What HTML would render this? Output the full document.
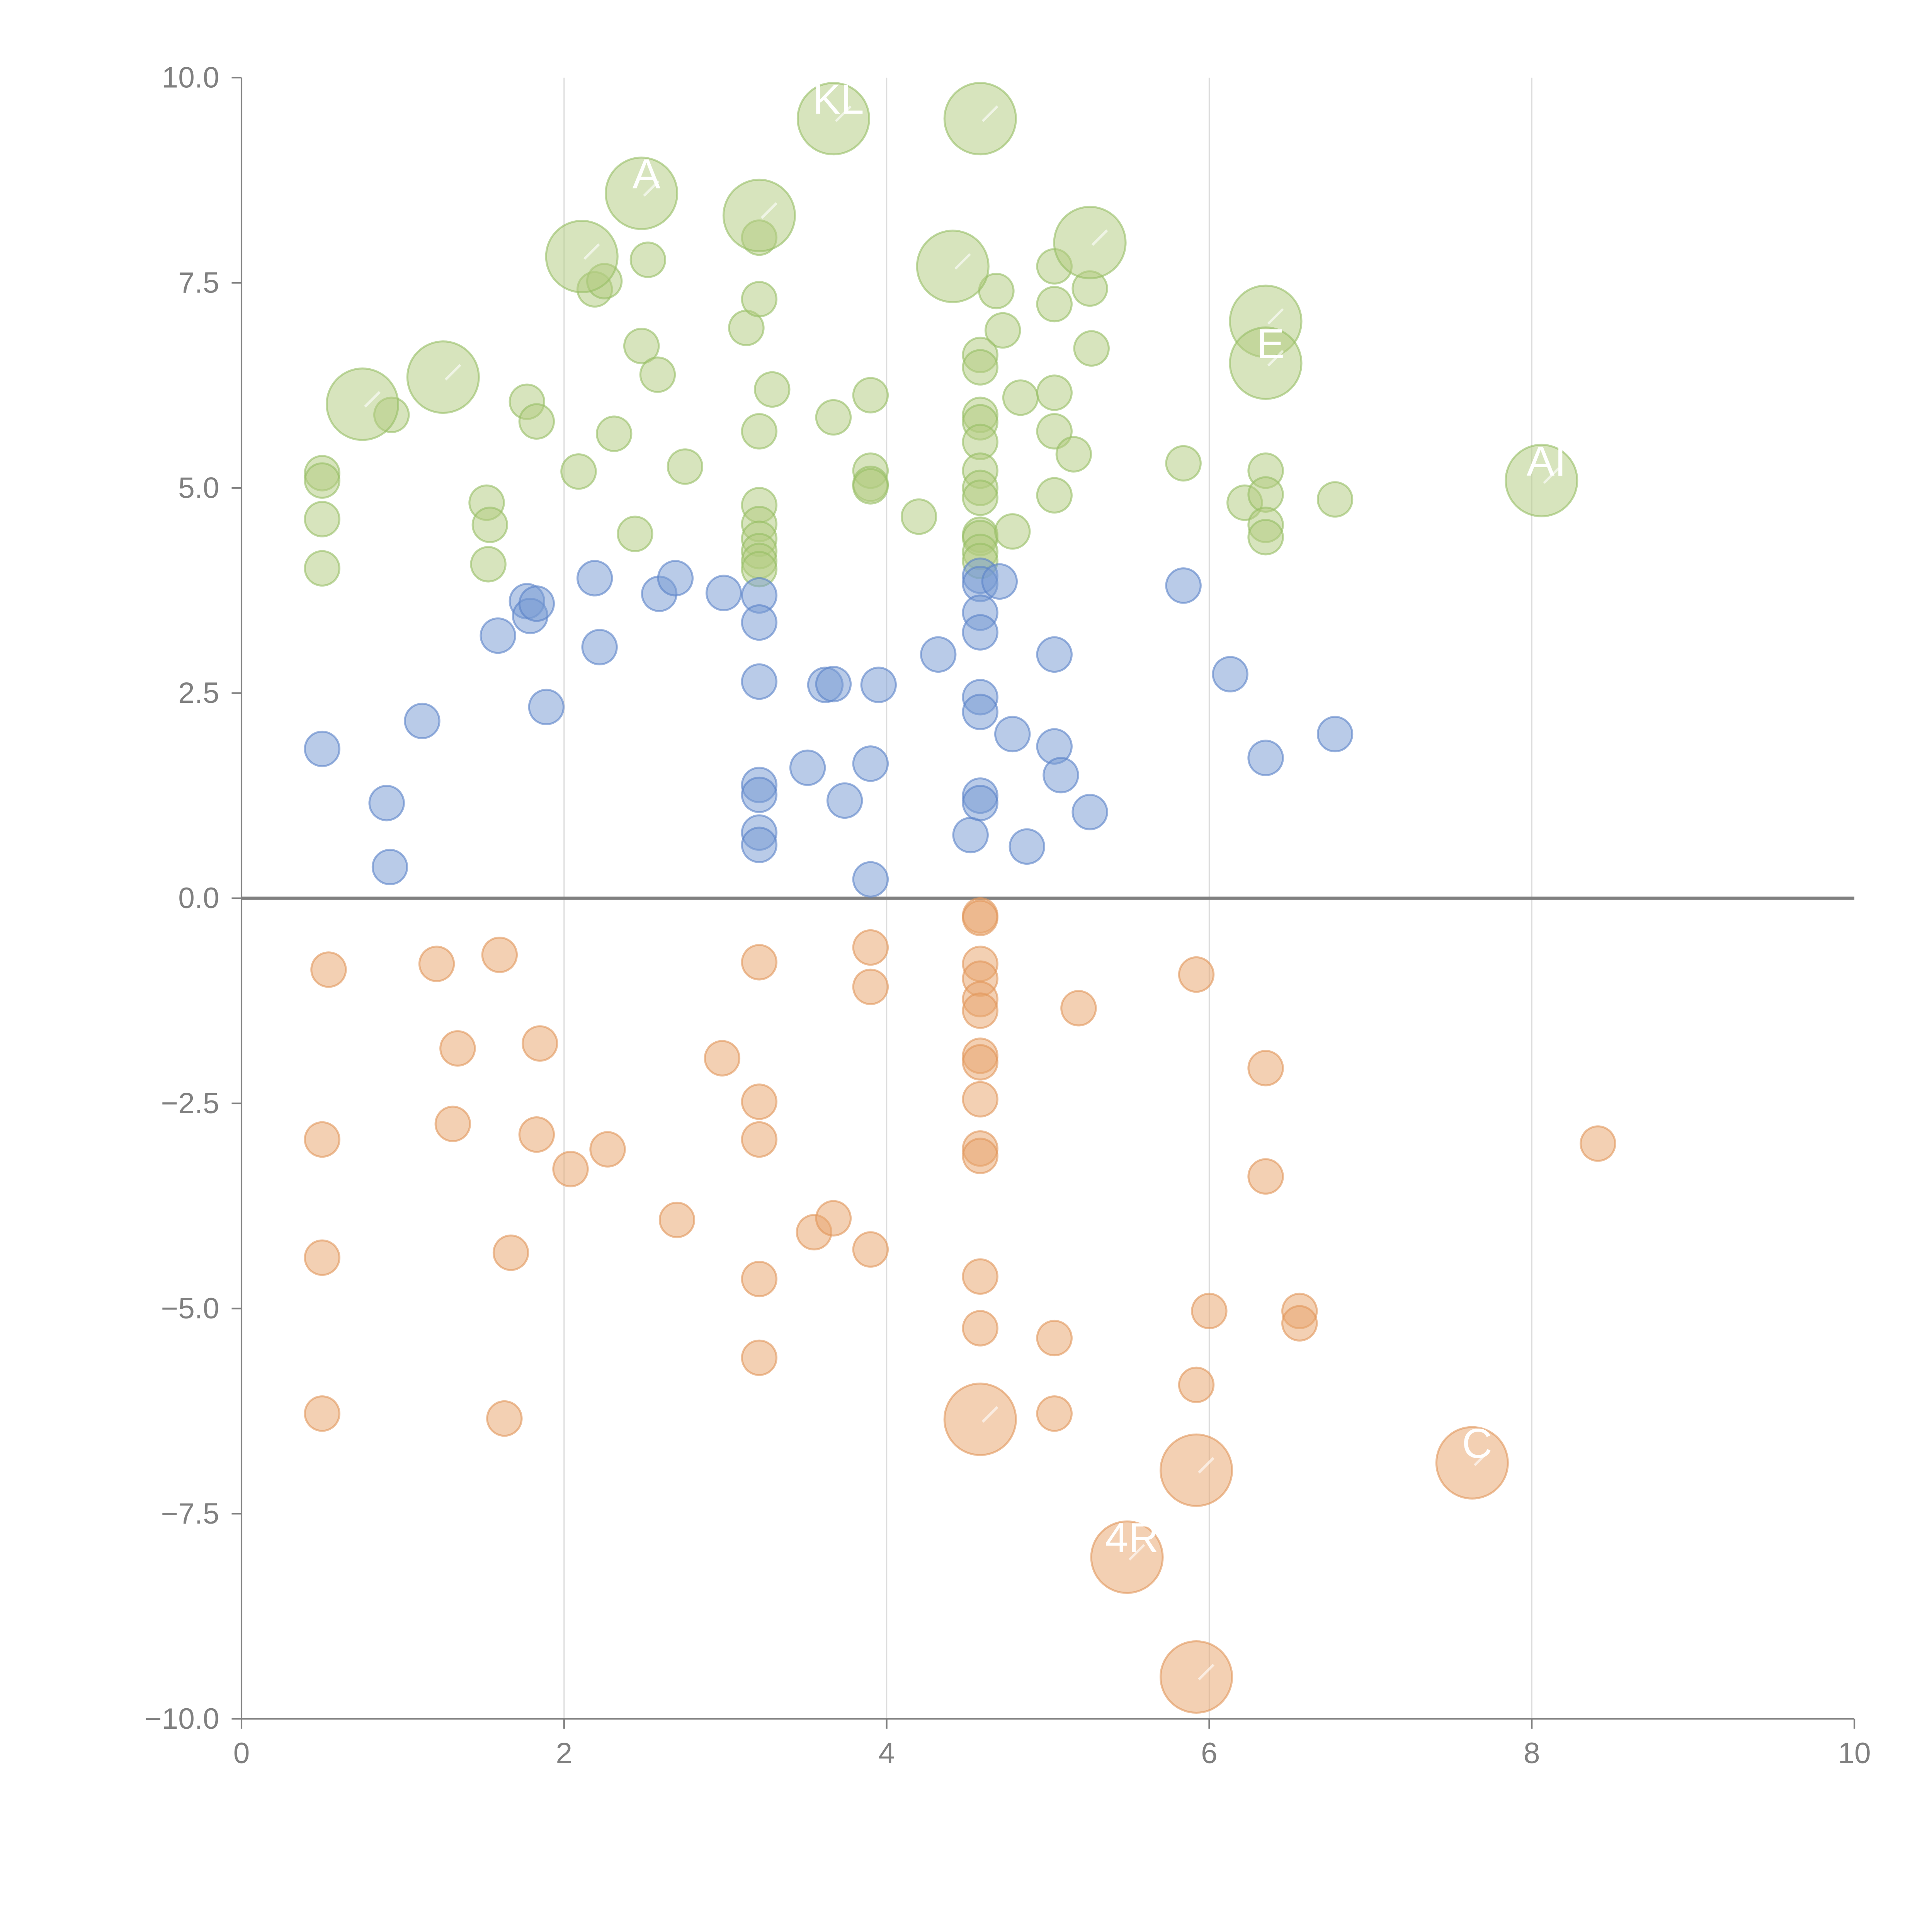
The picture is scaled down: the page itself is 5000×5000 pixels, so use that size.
<!DOCTYPE html>
<html><head><meta charset="utf-8"><style>html,body{margin:0;padding:0;background:#fff}svg{display:block}</style></head>
<body>
<svg id="chart" width="5000" height="5000" viewBox="0 0 1568 1568" xmlns="http://www.w3.org/2000/svg" font-family="'Liberation Sans', sans-serif">
<g id="grid"></g>
<g id="axes"></g>
<g id="marks"></g>
<g id="labels"></g>
</svg>
<script>
const xTicks = [0, 2, 4, 6, 8, 10];
const yTicks = [10, 7.5, 5, 2.5, 0, -2.5, -5, -7.5, -10];
const yTickLabels = ["10.0", "7.5", "5.0", "2.5", "0.0", "\u22122.5", "\u22125.0", "\u22127.5", "\u221210.0"];

const greenX = [0.50,0.50,0.50,0.50,0.93,1.52,1.54,1.53,1.77,1.83,2.09,2.19,2.25,2.31,2.44,2.48,2.52,2.58,2.75,3.13,3.21,3.21,3.29,3.21,3.21,3.21,3.21,3.21,3.21,3.21,3.67,3.90,3.90,3.90,3.90,4.20,4.68,4.72,4.58,4.58,4.58,4.58,4.58,4.58,4.58,4.58,4.58,4.58,4.58,4.58,4.78,4.83,5.04,5.04,5.04,5.04,5.04,5.26,5.27,5.16,5.84,6.22,6.35,6.35,6.35,6.35,6.78];
const greenY = [5.18,5.09,4.62,4.02,5.89,4.82,4.55,4.07,6.05,5.81,5.20,7.42,7.52,5.66,4.44,6.73,7.78,6.38,5.26,6.95,8.05,7.30,6.20,5.69,4.79,4.56,4.38,4.23,4.11,4.01,5.86,6.13,5.21,5.05,5.02,4.65,7.40,6.92,6.62,6.47,5.89,5.80,5.56,5.21,5.00,4.88,4.43,4.39,4.22,4.11,4.47,6.10,7.70,7.24,6.16,5.69,4.91,7.43,6.70,5.41,5.30,4.82,5.21,4.92,4.55,4.40,4.86];
const greenBigX = [0.75,1.25,2.11,2.48,3.21,3.67,4.58,4.41,5.26,6.35,6.35,8.06];
const greenBigY = [6.02,6.35,7.82,8.59,8.32,9.50,9.50,7.70,7.99,7.03,6.52,5.09];
const greenBigLabels = ["", "", "", "A", "", "KL", "", "", "", "", "E", "AI"];

const blueX = [0.50,0.90,0.92,1.12,1.59,1.77,1.79,1.83,1.89,2.19,2.22,2.59,2.69,2.99,3.21,3.21,3.21,3.21,3.21,3.21,3.21,3.51,3.62,3.67,3.74,3.90,3.90,3.95,4.32,4.52,4.58,4.58,4.70,4.58,4.58,4.58,4.58,4.78,4.58,4.58,4.87,5.04,5.04,5.08,5.26,5.84,6.13,6.35,6.78];
const blueY = [1.82,1.16,0.38,2.16,3.20,3.62,3.44,3.59,2.33,3.90,3.06,3.71,3.90,3.72,3.69,3.36,2.64,1.38,1.26,0.80,0.65,1.59,2.60,2.61,1.19,1.64,0.23,2.60,2.97,0.77,3.93,3.83,3.86,3.48,3.24,2.45,2.27,2.00,1.25,1.16,0.63,2.97,1.85,1.50,1.05,3.81,2.73,1.71,2.00];

const orangeX = [0.54,1.21,1.60,1.34,1.85,0.50,1.31,1.83,2.04,2.27,2.70,2.98,3.21,3.21,3.21,3.55,3.67,3.90,3.90,3.90,3.21,3.21,0.50,1.67,0.50,1.63,4.58,4.58,4.58,4.58,4.58,4.58,4.58,4.58,4.58,4.58,4.58,4.58,4.58,5.19,5.04,5.04,5.92,5.92,6.00,6.35,6.35,6.56,6.56,8.41];
const orangeY = [-0.87,-0.80,-0.69,-1.83,-1.77,-2.94,-2.75,-2.88,-3.30,-3.06,-3.92,-1.95,-0.78,-2.48,-2.94,-4.07,-3.90,-0.60,-1.08,-4.28,-4.64,-5.60,-4.38,-4.32,-6.28,-6.34,-0.21,-0.24,-0.80,-0.98,-1.23,-1.37,-1.92,-2.00,-2.45,-3.05,-3.14,-4.61,-5.24,-1.34,-5.36,-6.28,-0.93,-5.93,-5.03,-2.07,-3.39,-5.03,-5.18,-2.99];
const orangeBigX = [4.58,5.92,7.63,5.49,5.92];
const orangeBigY = [-6.35,-6.97,-6.88,-8.03,-9.49];
const orangeBigLabels = ["", "", "C", "4R", ""];

const X0 = 196, X1 = 1505, Y0 = 1395, Y1 = 63;
function sx(v){ return X0 + (v - 0) / 10 * (X1 - X0); }
function sy(v){ return Y0 - (v + 10) / 20 * (Y0 - Y1); }
const NS = "http://www.w3.org/2000/svg";
function mk(tag, attrs, parent){ const e = document.createElementNS(NS, tag); for (const k in attrs) e.setAttribute(k, attrs[k]); parent.appendChild(e); return e; }

const grid = document.getElementById('grid');
const axes = document.getElementById('axes');
const marks = document.getElementById('marks');
const labels = document.getElementById('labels');

xTicks.forEach(function(t){
  if (t > 0 && t < 10) {
    const g = mk('line', {x1: sx(t), x2: sx(t), y1: Y1, y2: Y0, stroke: '#dddddd', 'stroke-width': 1}, grid);
    
    
  }
  const tk = mk('line', {x1: sx(t), x2: sx(t), y1: Y0, y2: Y0 + 8, stroke: '#808080', 'stroke-width': 1.3}, axes);
  
  
  const tx = mk('text', {x: sx(t), y: Y0 + 36, 'text-anchor': 'middle', 'font-size': 24, fill: '#808080'}, axes);
  tx.textContent = String(t);
  
  
});
yTicks.forEach(function(t, i){
  const tk = mk('line', {x1: X0 - 8, x2: X0, y1: sy(t), y2: sy(t), stroke: '#808080', 'stroke-width': 1.3}, axes);
  
  
  const tx = mk('text', {x: X0 - 18, y: sy(t) + 8, 'text-anchor': 'end', 'font-size': 24, fill: '#808080'}, axes);
  tx.textContent = yTickLabels[i];
  
  
});
const ya = mk('line', {x1: X0, x2: X0, y1: Y1, y2: Y0, stroke: '#808080', 'stroke-width': 1.3}, axes);


const xa = mk('line', {x1: X0, x2: X1, y1: Y0, y2: Y0, stroke: '#808080', 'stroke-width': 1.3}, axes);


const zl = mk('line', {x1: X0, x2: X1, y1: sy(0), y2: sy(0), stroke: '#808080', 'stroke-width': 2.6}, axes);



function drawSeries(xs, ys, r, fill, stroke, name){
  xs.forEach(function(x, i){
    const c = mk('circle', {cx: sx(x), cy: sy(ys[i]), r: r, fill: fill, stroke: stroke, 'stroke-width': 1.6}, marks);
    
    
  });
}
const GF = 'rgba(178,204,128,0.52)', GS = 'rgba(150,190,100,0.6)';
const BF = 'rgba(120,155,210,0.52)', BS = 'rgba(90,130,200,0.6)';
const OF = 'rgba(232,165,110,0.52)', OS = 'rgba(225,150,90,0.6)';
drawSeries(greenX, greenY, 14, GF, GS, 'green-bubble');
drawSeries(greenBigX, greenBigY, 29, GF, GS, 'green-large-bubble');
drawSeries(blueX, blueY, 14, BF, BS, 'blue-bubble');
drawSeries(orangeX, orangeY, 14, OF, OS, 'orange-bubble');
drawSeries(orangeBigX, orangeBigY, 29, OF, OS, 'orange-large-bubble');

function drawLabels(xs, ys, texts){
  xs.forEach(function(x, i){
    const cx = sx(x), cy = sy(ys[i]);
    const ln = mk('line', {x1: cx + 2, y1: cy + 2, x2: cx + 14, y2: cy - 10, stroke: 'rgba(255,255,255,0.6)', 'stroke-width': 2}, labels);
    
    
    if (texts[i]) {
      const t = mk('text', {x: cx + 4, y: cy - 4, 'text-anchor': 'middle', 'font-size': 34, fill: '#ffffff'}, labels);
      t.textContent = texts[i];
      
      
    }
  });
}
drawLabels(greenBigX, greenBigY, greenBigLabels);
drawLabels(orangeBigX, orangeBigY, orangeBigLabels);
</script>
</body></html>
